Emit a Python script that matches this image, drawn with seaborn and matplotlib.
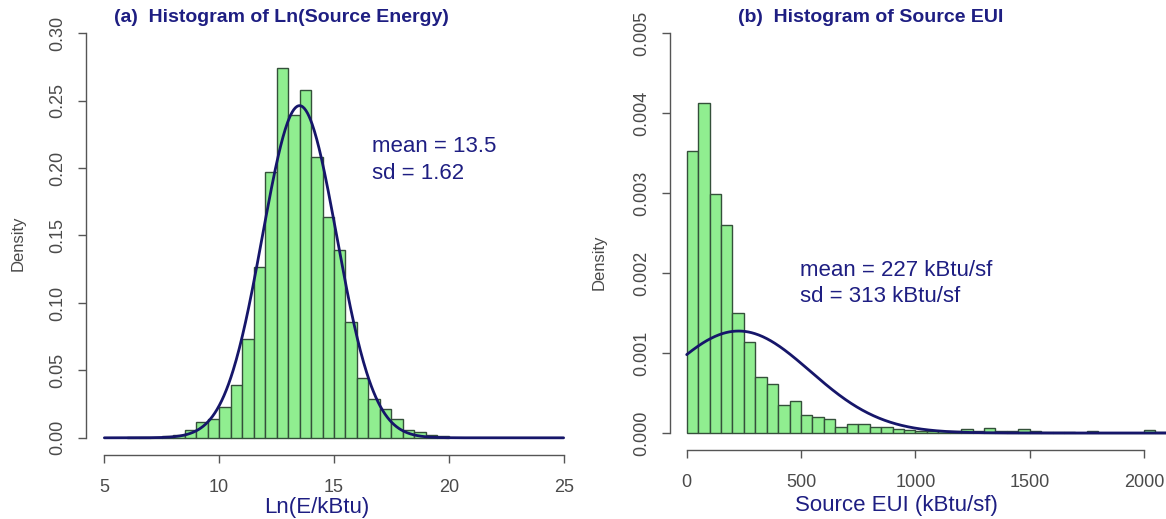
import numpy as np
import pandas as pd
import seaborn as sns
import matplotlib.pyplot as plt

# ---------------- data ----------------
# (a) Ln(source energy) histogram, bin width 0.5, densities
ln_bin_start = 6.0
ln_bin_width = 0.5
ln_density = [0.0003, 0.0005, 0.0005, 0.0010, 0.0020,           # 6.0 - 8.5
              0.0060, 0.0116, 0.0140, 0.0230, 0.0390, 0.0730,   # 8.5 - 11.5
              0.1270, 0.1970, 0.2740, 0.2390, 0.2580, 0.2080,   # 11.5 - 14.5
              0.1640, 0.1390, 0.0860, 0.0440, 0.0290, 0.0210,   # 14.5 - 17.5
              0.0140, 0.0060, 0.0040, 0.0020, 0.0010]           # 17.5 - 20.0
ln_mean, ln_sd = 13.5, 1.62

# (b) Source EUI histogram, bin width 50 kBtu/sf, densities
eui_bin_start = 0
eui_bin_width = 50
eui_density = [0.00352, 0.00413, 0.00299, 0.00260, 0.00150, 0.00114,
               0.00070, 0.00061, 0.00035, 0.00040, 0.00023, 0.00020,
               0.00018, 0.00008, 0.00011, 0.00011, 0.00008, 0.00007,
               0.00005, 0.00004, 0.00003, 0.00003, 0.00002, 0.00002,
               0.00005, 0.00002, 0.00006, 0.00003, 0.00002, 0.00005,
               0.00002, 0.00001, 0.00001, 0.00001, 0.00000, 0.00002,
               0.00000, 0.00000, 0.00000, 0.00000, 0.00004, 0.00001]
eui_mean, eui_sd = 227, 313

ln_xticks = [5, 10, 15, 20, 25]
ln_yticks = [0.00, 0.05, 0.10, 0.15, 0.20, 0.25, 0.30]
eui_xticks = [0, 500, 1000, 1500, 2000]
eui_yticks = [0.000, 0.001, 0.002, 0.003, 0.004, 0.005]

# ---------------- style ----------------
sns.set_style("white")
plt.rcParams['font.family'] = ['Liberation Sans', 'DejaVu Sans']

NAVY_TXT = '#1e1e82'
NAVY_LINE = '#16166a'
GREEN = '#90EE90'
EDGE = '#34503a'
GREY = '#555555'

W, H = 1166, 519
fig = plt.figure(figsize=(W / 100, H / 100), dpi=100)


def ax_at(x0, x1, y0, y1):
    return fig.add_axes([x0 / W, 1 - y1 / H, (x1 - x0) / W, (y1 - y0) / H])


def hist_panel(ax, start, width, dens, mean, sd, xrange_curve):
    n = len(dens)
    edges = [float(start + width * i) for i in range(n + 1)]
    centers = [e + width / 2 for e in edges[:-1]]
    df = pd.DataFrame({'x': centers, 'w': dens})
    sns.histplot(data=df, x='x', weights='w', bins=edges, stat='count',
                 color=GREEN, edgecolor=EDGE, linewidth=1.0, alpha=1.0, ax=ax)
    xs = np.linspace(xrange_curve[0], xrange_curve[1], 600)
    pdf = np.exp(-0.5 * ((xs - mean) / sd) ** 2) / (sd * np.sqrt(2 * np.pi))
    sns.lineplot(x=xs, y=pdf, color=NAVY_LINE, linewidth=2.0, ax=ax,
                 estimator=None, sort=False)


def style_axes(ax, xticks, yticks, xfmt, yfmt):
    for s in ['top', 'right']:
        ax.spines[s].set_visible(False)
    for s in ['left', 'bottom']:
        ax.spines[s].set_color(GREY)
        ax.spines[s].set_linewidth(1.0)
    ax.spines['left'].set_bounds(yticks[0], yticks[-1])
    ax.spines['bottom'].set_bounds(xticks[0], xticks[-1])
    ax.spines['bottom'].set_position(('outward', 1))
    ax.set_xticks(xticks)
    ax.set_yticks(yticks)
    ax.set_xticklabels([xfmt.format(v) for v in xticks])
    ax.set_yticklabels([yfmt.format(v) for v in yticks], rotation=90, va='center')
    ax.tick_params(axis='both', direction='out', length=6, width=1.0,
                   color=GREY, labelcolor='#4a4a4a', labelsize=13,
                   bottom=True, left=True, top=False, right=False)
    ax.tick_params(axis='x', pad=11)
    ax.tick_params(axis='y', pad=8)
    ax.set_xlabel('')
    ax.set_ylabel('')
    ax.grid(False)


# ---------------- panel (a) ----------------
ax1 = ax_at(86, 582, 17, 454)
hist_panel(ax1, ln_bin_start, ln_bin_width, ln_density, ln_mean, ln_sd, (5, 25))
ax1.set_xlim(4.2, 25.8)
ax1.set_ylim(-0.012, 0.312)
style_axes(ax1, ln_xticks, ln_yticks, '{:d}', '{:.2f}')

# ---------------- panel (b) ----------------
ax2 = ax_at(670, 1166, 17, 449)
hist_panel(ax2, eui_bin_start, eui_bin_width, eui_density, eui_mean, eui_sd, (0, 2100))
ax2.set_xlim(-73, 2096)
ax2.set_ylim(-0.0002, 0.0052)
style_axes(ax2, eui_xticks, eui_yticks, '{:d}', '{:.3f}')

# ---------------- texts ----------------
def ftext(x, y, s, **kw):
    fig.text(x / W, 1 - y / H, s, **kw)

ftext(114, 18, '(a)  Histogram of Ln(Source Energy)', color=NAVY_TXT,
      fontsize=14, fontweight='bold', ha='left', va='center')
ftext(738, 18, '(b)  Histogram of Source EUI', color=NAVY_TXT,
      fontsize=14, fontweight='bold', ha='left', va='center')

ftext(317, 507, 'Ln(E/kBtu)', color=NAVY_TXT, fontsize=16, ha='center', va='center')
ftext(896, 506, 'Source EUI (kBtu/sf)', color=NAVY_TXT, fontsize=16, ha='center', va='center')

ftext(18, 243, 'Density', color='#4a4a4a', fontsize=12, rotation=90, ha='center', va='center')
ftext(599, 262, 'Density', color='#4a4a4a', fontsize=12, rotation=90, ha='center', va='center')

ftext(372, 146, 'mean = 13.5', color=NAVY_TXT, fontsize=16, ha='left', va='center')
ftext(372, 174, 'sd = 1.62', color=NAVY_TXT, fontsize=16, ha='left', va='center')
ftext(800, 270, 'mean = 227 kBtu/sf', color=NAVY_TXT, fontsize=16, ha='left', va='center')
ftext(800, 296, 'sd = 313 kBtu/sf', color=NAVY_TXT, fontsize=16, ha='left', va='center')

fig.savefig('out.png', dpi=100)
